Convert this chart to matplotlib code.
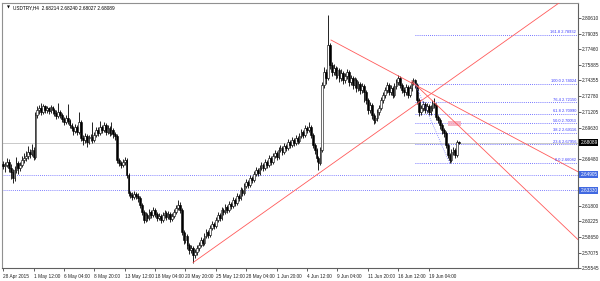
import matplotlib
matplotlib.use('Agg')
import matplotlib.pyplot as plt
from matplotlib.patches import Rectangle

plt.rcParams['font.family'] = 'Liberation Sans'

# ---- data (USDTRY H4) ----
first_open = 2.660
close = [
    2.658, 2.659, 2.662, 2.656, 2.652, 2.646, 2.654, 2.661, 2.656, 2.659,
    2.664, 2.666, 2.668, 2.672, 2.670, 2.674, 2.667, 2.709, 2.714, 2.716,
    2.712, 2.718, 2.714, 2.716, 2.713, 2.717, 2.714, 2.711, 2.708, 2.712,
    2.709, 2.705, 2.702, 2.706, 2.703, 2.699, 2.696, 2.693, 2.697, 2.692,
    2.702, 2.686, 2.684, 2.688, 2.682, 2.686, 2.687, 2.684, 2.689, 2.694,
    2.691, 2.697, 2.694, 2.699, 2.692, 2.696, 2.691, 2.694, 2.690, 2.688,
    2.664, 2.661, 2.659, 2.662, 2.664, 2.649, 2.631, 2.629, 2.627, 2.630,
    2.628, 2.626, 2.619, 2.612, 2.604, 2.609, 2.606, 2.612, 2.609, 2.614,
    2.610, 2.606, 2.608, 2.604, 2.609, 2.611, 2.607, 2.610, 2.605, 2.608,
    2.612, 2.616, 2.619, 2.614, 2.592, 2.584, 2.588, 2.579, 2.574, 2.576,
    2.569, 2.572, 2.576, 2.579, 2.584, 2.581, 2.588, 2.592, 2.589, 2.596,
    2.600, 2.598, 2.604, 2.609, 2.606, 2.614, 2.612, 2.617, 2.614, 2.620,
    2.618, 2.624, 2.621, 2.628, 2.626, 2.634, 2.631, 2.638, 2.642, 2.639,
    2.646, 2.644, 2.650, 2.654, 2.651, 2.656, 2.659, 2.656, 2.662, 2.659,
    2.666, 2.662, 2.668, 2.671, 2.667, 2.674, 2.676, 2.672, 2.678, 2.676,
    2.682, 2.679, 2.684, 2.681, 2.686, 2.683, 2.688, 2.692, 2.689, 2.696,
    2.694, 2.697, 2.689, 2.679, 2.674, 2.666, 2.661, 2.674, 2.739, 2.752,
    2.746, 2.779, 2.759, 2.752, 2.756, 2.749, 2.754, 2.746, 2.751, 2.744,
    2.748, 2.752, 2.742, 2.746, 2.739, 2.744, 2.736, 2.740, 2.734, 2.738,
    2.732, 2.724, 2.714, 2.719, 2.709, 2.704, 2.706, 2.712, 2.716, 2.724,
    2.729, 2.734, 2.739, 2.732, 2.736, 2.729, 2.738, 2.742, 2.746, 2.739,
    2.734, 2.732, 2.737, 2.729, 2.736, 2.742, 2.744, 2.739, 2.724, 2.712,
    2.716, 2.720, 2.714, 2.718, 2.712, 2.716, 2.721, 2.719, 2.707, 2.704,
    2.699, 2.694, 2.691, 2.679, 2.669, 2.664, 2.672, 2.674, 2.669, 2.68214,
    2.68089,
]
high = [
    2.663, 2.662, 2.666, 2.665, 2.660, 2.655, 2.658, 2.667, 2.663, 2.662,
    2.668, 2.671, 2.673, 2.678, 2.675, 2.680, 2.677, 2.712, 2.718, 2.719,
    2.721, 2.720, 2.719, 2.718, 2.717, 2.719, 2.718, 2.716, 2.714, 2.721,
    2.714, 2.711, 2.707, 2.709, 2.720, 2.705, 2.701, 2.698, 2.700, 2.699,
    2.712, 2.704, 2.689, 2.691, 2.690, 2.689, 2.690, 2.702, 2.692, 2.697,
    2.697, 2.703, 2.699, 2.702, 2.701, 2.699, 2.698, 2.702, 2.696, 2.692,
    2.690, 2.666, 2.663, 2.665, 2.667, 2.666, 2.651, 2.633, 2.632, 2.633,
    2.632, 2.631, 2.628, 2.621, 2.614, 2.612, 2.611, 2.615, 2.614, 2.617,
    2.616, 2.612, 2.611, 2.610, 2.612, 2.614, 2.613, 2.613, 2.612, 2.611,
    2.615, 2.619, 2.624, 2.622, 2.616, 2.594, 2.592, 2.590, 2.581, 2.579,
    2.578, 2.575, 2.579, 2.582, 2.587, 2.586, 2.591, 2.595, 2.594, 2.599,
    2.603, 2.602, 2.607, 2.612, 2.611, 2.617, 2.616, 2.620, 2.619, 2.623,
    2.622, 2.627, 2.626, 2.631, 2.630, 2.637, 2.636, 2.641, 2.645, 2.644,
    2.649, 2.648, 2.653, 2.657, 2.656, 2.659, 2.662, 2.661, 2.665, 2.664,
    2.669, 2.668, 2.671, 2.674, 2.673, 2.677, 2.679, 2.678, 2.681, 2.680,
    2.685, 2.684, 2.687, 2.686, 2.689, 2.688, 2.691, 2.695, 2.694, 2.699,
    2.698, 2.702, 2.699, 2.691, 2.681, 2.676, 2.668, 2.677, 2.742, 2.757,
    2.755, 2.809, 2.781, 2.762, 2.760, 2.758, 2.757, 2.756, 2.755, 2.753,
    2.751, 2.755, 2.754, 2.749, 2.748, 2.747, 2.746, 2.743, 2.742, 2.741,
    2.740, 2.734, 2.726, 2.722, 2.721, 2.711, 2.709, 2.715, 2.719, 2.727,
    2.732, 2.737, 2.742, 2.741, 2.739, 2.738, 2.741, 2.745, 2.749, 2.748,
    2.741, 2.737, 2.740, 2.739, 2.739, 2.744, 2.746, 2.745, 2.741, 2.726,
    2.719, 2.723, 2.722, 2.721, 2.720, 2.719, 2.724, 2.726, 2.721, 2.709,
    2.706, 2.701, 2.696, 2.693, 2.681, 2.671, 2.675, 2.677, 2.676, 2.684,
    2.68240,
]
low = [
    2.655, 2.652, 2.657, 2.652, 2.645, 2.641, 2.643, 2.651, 2.650, 2.653,
    2.657, 2.661, 2.663, 2.665, 2.666, 2.668, 2.664, 2.665, 2.706, 2.710,
    2.709, 2.710, 2.711, 2.711, 2.710, 2.711, 2.710, 2.708, 2.705, 2.706,
    2.706, 2.702, 2.699, 2.700, 2.700, 2.696, 2.693, 2.689, 2.691, 2.689,
    2.690, 2.683, 2.679, 2.681, 2.677, 2.680, 2.683, 2.681, 2.682, 2.687,
    2.688, 2.689, 2.691, 2.692, 2.689, 2.690, 2.688, 2.689, 2.686, 2.684,
    2.661, 2.658, 2.656, 2.657, 2.659, 2.646, 2.628, 2.626, 2.624, 2.625,
    2.625, 2.622, 2.616, 2.609, 2.601, 2.602, 2.603, 2.604, 2.606, 2.607,
    2.607, 2.603, 2.604, 2.601, 2.602, 2.606, 2.604, 2.605, 2.602, 2.603,
    2.606, 2.610, 2.614, 2.611, 2.589, 2.580, 2.581, 2.575, 2.570, 2.571,
    2.561, 2.566, 2.569, 2.573, 2.577, 2.578, 2.579, 2.586, 2.586, 2.587,
    2.594, 2.595, 2.596, 2.602, 2.603, 2.604, 2.609, 2.610, 2.611, 2.612,
    2.615, 2.616, 2.618, 2.619, 2.623, 2.624, 2.628, 2.629, 2.636, 2.636,
    2.637, 2.641, 2.642, 2.648, 2.648, 2.649, 2.654, 2.653, 2.654, 2.656,
    2.657, 2.659, 2.660, 2.666, 2.664, 2.665, 2.672, 2.669, 2.670, 2.673,
    2.674, 2.676, 2.677, 2.678, 2.679, 2.680, 2.681, 2.686, 2.686, 2.687,
    2.691, 2.692, 2.686, 2.676, 2.670, 2.662, 2.654, 2.659, 2.672, 2.736,
    2.740, 2.744, 2.755, 2.748, 2.749, 2.745, 2.746, 2.742, 2.743, 2.740,
    2.741, 2.745, 2.738, 2.739, 2.735, 2.736, 2.732, 2.733, 2.730, 2.731,
    2.722, 2.720, 2.710, 2.711, 2.705, 2.700, 2.701, 2.703, 2.709, 2.714,
    2.721, 2.726, 2.731, 2.729, 2.729, 2.726, 2.727, 2.735, 2.739, 2.736,
    2.731, 2.728, 2.729, 2.726, 2.727, 2.733, 2.739, 2.736, 2.720, 2.708,
    2.709, 2.713, 2.711, 2.711, 2.709, 2.709, 2.713, 2.716, 2.704, 2.701,
    2.695, 2.690, 2.687, 2.676, 2.666, 2.661, 2.662, 2.669, 2.666, 2.667,
    2.68027,
]

x_tick_bars = [0, 16, 32, 48, 64, 80, 96, 112, 128, 144, 160, 176, 192, 208, 224]
x_tick_labels = ['28 Apr 2015', '1 May 12:00', '6 May 04:00', '8 May 20:00',
                 '13 May 12:00', '18 May 04:00', '20 May 20:00', '25 May 12:00',
                 '28 May 04:00', '1 Jun 20:00', '4 Jun 12:00', '9 Jun 04:00',
                 '11 Jun 20:00', '16 Jun 12:00', '19 Jun 04:00']
y_ticks = [2.80610, 2.79035, 2.77460, 2.75885, 2.74355, 2.72780, 2.71205,
           2.69630, 2.66480, 2.61800, 2.60225, 2.58650, 2.57075, 2.55545]

last_price = 2.68089
h_levels = [2.64905, 2.63330]

# Fibonacci retracement (anchor bar, price)
fib_hi = (216.8, 2.74024)
fib_lo = (235.0, 2.66082)
fib_ratios = [0.0, 23.6, 38.2, 50.0, 61.8, 76.4, 100.0, 161.8]

# trend lines (bar, price) pairs
trend_lines = [
    ((100.0, 2.561), (294.0, 2.823)),
    ((172.6, 2.784), (302.6, 2.652)),
    ((215.0, 2.743), (302.6, 2.584)),
]

# ---- drawing ----
fig = plt.figure(figsize=(6.0, 2.81), dpi=100)
ax = fig.add_axes([0.0033, 0.046, 0.960, 0.943])
xmin, xmax = -0.6, 302.6
ymin, ymax = 2.5555, 2.821
ax.set_xlim(xmin, xmax)
ax.set_ylim(ymin, ymax)

opens = [first_open] + close[:-1]
opens[-1] = 2.68214
n = len(close)
idx = list(range(n))

# current price line and the horizontal levels
ax.axhline(last_price, color='#c0c0c0', lw=0.6, zorder=1)
for lv in h_levels:
    ax.axhline(lv, color='#5a5aff', lw=0.6, ls=(0, (1, 1.5)), zorder=1)

# candles
ax.vlines(idx, low, high, color='black', lw=0.6, zorder=3)
for i in idx:
    o, c = opens[i], close[i]
    bottom = min(o, c)
    h = max(abs(c - o), 0.0007)
    if c >= o:
        ax.bar(i, h, bottom=bottom, width=0.9, facecolor='white',
               edgecolor='black', linewidth=0.4, zorder=4)
    else:
        ax.bar(i, h, bottom=bottom, width=0.9, facecolor='black',
               edgecolor='black', linewidth=0.4, zorder=4)

# trend lines (rays to the right edge)
for (x0, y0), (x1, y1) in trend_lines:
    slope = (y1 - y0) / (x1 - x0)
    ax.plot([x0, xmax], [y0, y0 + slope * (xmax - x0)], color='#ff5a5a',
            lw=0.6, zorder=5)

# fibonacci
d = fib_hi[1] - fib_lo[1]
ax.plot([fib_hi[0], fib_lo[0]], [fib_hi[1], fib_lo[1]], color='#8080ff',
        lw=0.6, ls=(0, (1, 1.5)), zorder=5)
for r in fib_ratios:
    v = fib_lo[1] + d * r / 100.0
    ax.plot([fib_hi[0], xmax], [v, v], color='#4a4aff', lw=0.6,
            ls=(0, (1, 1.5)), zorder=2)
    ax.text(xmax - 1.0, v + 0.0006, '%.1f %.5f' % (r, v), color='#3a3aff',
            fontsize=2.9, ha='right', va='bottom', zorder=6)

# small marker box near the 50% level
ax.add_patch(Rectangle((234.0, 2.6975), 7.0, 0.0055, facecolor='#f6a6b8',
                       edgecolor='none', alpha=0.8, zorder=2))

# axes style
for s in ['left', 'top']:
    ax.spines[s].set_color('#909090')
for s in ['right', 'bottom']:
    ax.spines[s].set_color('#606060')
for s in ax.spines.values():
    s.set_linewidth(0.8)

ax.yaxis.tick_right()
ax.set_yticks(y_ticks)
ax.set_yticklabels(['%.5f' % v for v in y_ticks])
ax.tick_params(axis='y', labelsize=3.4, length=2, width=0.5, pad=1,
               colors='#202020')
ax.set_xticks(x_tick_bars)
ax.set_xticklabels(x_tick_labels, ha='left')
ax.tick_params(axis='x', labelsize=3.4, length=2, width=0.5, pad=2,
               colors='#202020')

# highlighted price labels on the axis
ax.text(1.004, last_price, '%.5f' % last_price, transform=ax.get_yaxis_transform(),
        fontsize=3.4, color='white', va='center', ha='left', zorder=10,
        bbox=dict(boxstyle='square,pad=0.2', facecolor='black', edgecolor='none'),
        clip_on=False)
for lv in h_levels:
    ax.text(1.004, lv, '%.5f' % lv, transform=ax.get_yaxis_transform(),
            fontsize=3.4, color='white', va='center', ha='left', zorder=10,
            bbox=dict(boxstyle='square,pad=0.2', facecolor='#4169e1', edgecolor='none'),
            clip_on=False)

fig.text(0.012, 0.972, '\u25bc', fontsize=2.8, color='black', va='center',
         ha='left', family='DejaVu Sans')
fig.text(0.022, 0.972, 'USDTRY,H4  2.68214 2.68240 2.68027 2.68089',
         fontsize=3.4, color='black', va='center', ha='left')

fig.savefig('out.png', dpi=100)
